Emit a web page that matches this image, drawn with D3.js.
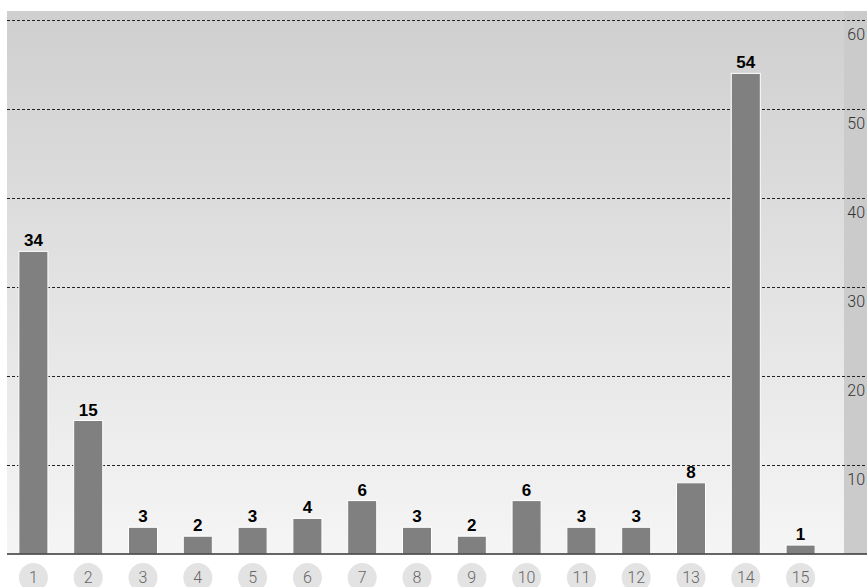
<!DOCTYPE html>
<html>
<head>
  <meta charset="utf-8">
  <script src="https://cdn.jsdelivr.net/npm/d3@7"></script>
  <style>
    body { margin: 0; background: #fff; }
  </style>
</head>
<body>
<script>
  var categories = ["1","2","3","4","5","6","7","8","9","10","11","12","13","14","15"];
  var values = [34, 15, 3, 2, 3, 4, 6, 3, 2, 6, 3, 3, 8, 54, 1];
  var yTicks = [10, 20, 30, 40, 50, 60];

  var width = 867, height = 587;
  var plotLeft = 7, plotTop = 11, plotRight = 844, base = 554;

  var svg = d3.select("body").append("svg")
    .attr("width", width)
    .attr("height", height);

  var defs = svg.append("defs");
  var grad = defs.append("linearGradient")
    .attr("id", "bg")
    .attr("x1", 0).attr("y1", 0).attr("x2", 0).attr("y2", 1);
  grad.append("stop").attr("offset", "0%").attr("stop-color", "#cfcfcf");
  grad.append("stop").attr("offset", "100%").attr("stop-color", "#f5f5f5");

  var x = d3.scaleBand()
    .domain(categories)
    .range([6, 828])
    .paddingInner(0.47)
    .paddingOuter(0.235);

  var y = d3.scaleLinear()
    .domain([0, 60])
    .range([base, 20]);

  // background
  svg.append("rect")
    .attr("x", plotLeft).attr("y", plotTop)
    .attr("width", plotRight - plotLeft).attr("height", base - plotTop)
    .attr("fill", "url(#bg)");

  // axis panel on the right
  svg.append("rect")
    .attr("x", plotRight).attr("y", plotTop)
    .attr("width", width - plotRight).attr("height", base - plotTop)
    .attr("fill", "#cbcbcb");

  // grid + labels
  var yAxis = svg.append("g")
    .attr("transform", "translate(" + plotLeft + ",0)")
    .call(d3.axisRight(y).tickValues(yTicks).tickSize(width - plotLeft).tickPadding(0));

  yAxis.select(".domain").remove();
  yAxis.selectAll(".tick line")
    .attr("stroke", "#222")
    .attr("stroke-width", 1)
    .attr("stroke-dasharray", "3,2");
  yAxis.selectAll(".tick text")
    .attr("x", width - plotLeft - 2)
    .attr("dy", 0)
    .attr("y", 19)
    .attr("text-anchor", "end")
    .attr("fill", "#333")
    .style("font-family", "Roboto, 'Liberation Sans', sans-serif")
    .style("font-weight", 300)
    .style("font-size", "16px");

  // bars
  svg.selectAll("rect.bar")
    .data(values)
    .enter()
    .append("rect")
    .attr("class", "bar")
    .attr("x", function(d, i) { return x(categories[i]); })
    .attr("y", function(d) { return y(d); })
    .attr("width", x.bandwidth())
    .attr("height", function(d) { return y(0) - y(d); })
    .attr("fill", "#808080")
    .attr("stroke", "#fff")
    .attr("stroke-width", 1);

  // value labels
  svg.selectAll("text.val")
    .data(values)
    .enter()
    .append("text")
    .attr("class", "val")
    .attr("x", function(d, i) { return x(categories[i]) + x.bandwidth() / 2; })
    .attr("y", function(d) { return y(d) - 5; })
    .attr("text-anchor", "middle")
    .attr("fill", "#000")
    .style("font-family", "'Liberation Sans Narrow', 'Liberation Sans', sans-serif")
    .style("font-weight", "bold")
    .style("font-size", "17px")
    .text(function(d) { return d; });

  // baseline
  svg.append("line")
    .attr("x1", plotLeft).attr("x2", width)
    .attr("y1", base).attr("y2", base)
    .attr("stroke", "#333")
    .attr("stroke-width", 1.5);

  // x axis with circles
  var xAxis = svg.append("g")
    .attr("transform", "translate(0," + base + ")")
    .call(d3.axisBottom(x).tickSize(0).tickPadding(0));

  xAxis.select(".domain").remove();
  xAxis.selectAll(".tick").insert("circle", "text")
    .attr("cx", 0)
    .attr("cy", 23.5)
    .attr("r", 14.5)
    .attr("fill", "#e3e3e3");
  xAxis.selectAll(".tick text")
    .attr("y", 28.5)
    .attr("dy", 0)
    .attr("fill", "#666")
    .style("font-family", "Roboto, 'Liberation Sans', sans-serif")
    .style("font-weight", 300)
    .style("font-size", "16px");
</script>
</body>
</html>
